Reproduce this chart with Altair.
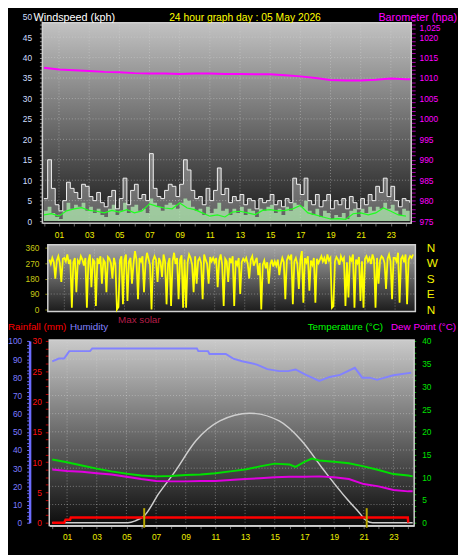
import altair as alt
import pandas as pd

# ---------------- data ----------------
WIND_HOURS = [i * 0.25 for i in range(98)]
GUST = [5.5, 15, 8, 4,
        2.5, 5, 9.5, 8,
        7, 5.5, 9, 8.5,
        6, 5, 7, 4.5,
        3.5, 6, 7.5, 3,
        5.5, 10.5, 4, 7.5,
        9, 5.5, 6.5, 5,
        16.5, 8, 6, 5.5,
        7.5, 9, 8.5, 6,
        9, 15, 12.5, 7.5,
        5.5, 6, 4, 8,
        5, 7.5, 13, 6.5,
        8, 4.5, 6, 5,
        6.5, 4, 5.5, 5,
        3, 5.5, 4.5, 5,
        6.5, 4, 5, 3.5,
        5.5, 4.5, 10.5, 9,
        6.5, 10.5, 5, 4,
        6.5, 3.5, 5, 6.5,
        3, 5, 4, 5.5,
        3, 6, 4.5, 3,
        5.5, 4, 6.5, 5,
        8.5, 7, 10.5, 6,
        8.5, 5, 3.5, 5.5,
        5, 4.5]
SPEED = [2.5, 3.5, 2, 1,
         0.5, 2.5, 4.5, 3,
         4, 3.5, 4.5, 2.5,
         3.5, 2, 3, 1.5,
         1, 3, 4, 1.5,
         2.5, 4.5, 2, 3.5,
         4, 2.5, 3, 2,
         5.5, 4.5, 3.5, 2.5,
         4, 4.5, 4, 3,
         4.5, 5.5, 5, 3.5,
         2.5, 3, 1.5, 3.5,
         2, 3, 4.5, 2.5,
         3, 1.5, 3, 2,
         3.5, 1.5, 3, 2.5,
         1, 3, 2.5, 3.5,
         4, 2, 3, 1.5,
         3.5, 2.5, 4.5, 4,
         3.5, 5, 2.5, 1.5,
         3, 1, 2.5, 2,
         0.5, 1.5, 1, 2,
         0.5, 2.5, 3, 1,
         3, 2, 3.5, 2.5,
         3.5, 3, 4.5, 3,
         4, 2.5, 1.5, 3,
         2.5, 2]
AVG_HOURS = [i * 0.5 for i in range(49)]
AVG = [1.5, 1.8, 1.2, 2.5, 3.0, 3.3, 2.6, 2.4, 2.0, 2.6,
       2.2, 2.8, 2.0, 2.5, 4.2, 3.6, 3.2, 3.0, 4.4, 3.2,
       2.8, 2.0, 1.2, 1.5, 1.0, 2.2, 2.4, 2.0, 1.6, 2.6,
       2.8, 2.5, 2.6, 3.0, 3.8, 2.0, 1.5, 1.0, 0.5, 0.6,
       0.4, 1.8, 2.0, 1.5, 2.0, 3.2, 2.4, 1.5, 1.2]
BARO_HOURS = list(range(25)) + [24.3]
BARO = [1012.5, 1012.1, 1011.9, 1011.7, 1011.5, 1011.4, 1011.2, 1011.1, 1011.1,
        1011.0, 1011.1, 1011.1, 1011.0, 1011.0, 1010.9, 1010.9, 1010.7, 1010.4,
        1010.0, 1009.5, 1009.4, 1009.4, 1009.6, 1009.9, 1009.7, 1009.7]

DIR_HOURS = [i / 10 for i in range(243)]
DIRECTION = [
    290, 265, 300, 275, 180, 285, 310, 270, 160, 295,
    300, 280, 320, 265, 290, 10, 275, 300, 100, 285,
    270, 310, 290, 255, 300, 10, 280, 320, 130, 290,
    280, 20, 300, 265, 310, 150, 290, 275, 100, 305,
    295, 270, 180, 300, 260, 0, 15, 285, 310, 30,
    290, 320, 50, 280, 300, 150, 265, 340, 290, 60,
    300, 280, 310, 100, 270, 330, 295, 260, 0, 285,
    310, 290, 160, 300, 275, 190, 320, 280, 30, 265,
    300, 20, 280, 330, 265, 300, 60, 290, 315, 10,
    290, 10, 275, 320, 300, 260, 100, 310, 150, 285,
    300, 270, 60, 320, 290, 265, 150, 305, 280, 300,
    275, 300, 130, 285, 320, 260, 20, 295, 280, 160,
    300, 270, 310, 20, 285, 260, 300, 90, 275, 295,
    280, 300, 265, 180, 290, 310, 255, 280, 300, 200,
    270, 0, 260, 285, 240, 275, 150, 260, 290, 250,
    280, 255, 290, 200, 265, 300, 275, 60, 285, 310,
    295, 320, 30, 280, 300, 265, 120, 290, 340, 40,
    300, 275, 310, 110, 285, 260, 300, 40, 295, 270,
    290, 310, 280, 300, 265, 320, 285, 300, 10, 20,
    280, 305, 290, 260, 310, 285, 300, 20, 275, 70,
    300, 285, 320, 10, 290, 270, 305, 50, 280, 10,
    295, 310, 280, 300, 265, 320, 290, 10, 300, 150,
    285, 310, 300, 270, 120, 295, 320, 280, 60, 300,
    300, 280, 330, 40, 295, 310, 275, 320, 30, 290,
    310, 300, 320]

HUM_HOURS = [0, 0.45, 0.8, 1.15, 2.55, 2.7, 9.75, 9.85, 10.5, 10.6, 11.7, 12.2, 12.8,
             13.8, 14.5, 15.3, 15.9, 16.4, 17.1, 18.0, 18.7, 19.4, 20.4, 20.9, 21.4,
             21.9, 23.0, 24.0, 24.2]
HUMIDITY = [88.8, 90.3, 90.3, 94.4, 94.4, 95.9, 95.9, 94.4, 94.4, 92.8, 92.8, 90.3, 88.8,
            87.0, 84.5, 83.4, 83.4, 84.3, 81.3, 78.0, 80.2, 81.3, 85.2, 79.8, 79.8,
            78.6, 81.1, 82.3, 82.5]
TEMP_HOURS = [0, 1, 2, 3, 4, 5, 6, 7, 8, 9, 10, 11, 12, 13, 14, 15, 16, 16.4, 17, 17.5,
              18, 19, 20, 21, 22, 23, 24, 24.3]
TEMP = [13.9, 13.3, 12.6, 11.9, 11.3, 10.8, 10.4, 10.2, 10.3, 10.5, 10.6, 10.9, 11.3,
        11.7, 12.4, 13.0, 12.8, 12.3, 13.4, 14.1, 13.7, 13.4, 13.1, 12.4, 11.6, 10.7,
        10.4, 10.2]
DEW_HOURS = list(range(25)) + [24.3]
DEW = [11.7, 11.4, 11.2, 10.9, 10.6, 10.1, 9.6, 9.2, 9.1, 9.1, 9.2, 9.2, 9.4, 9.6, 9.8,
       10.0, 10.1, 10.1, 10.2, 10.0, 9.6, 8.5, 8.0, 7.2, 6.9, 6.9]
SOLAR_HOURS = [0, 5.1, 5.6, 6.2, 7.2, 8.2, 9.7, 11.3, 13.3, 15.3, 16.8, 18.3, 19.9,
               20.6, 21.2, 21.6, 24.3]
SOLAR = [0, 0, 0.4, 1.5, 6.5, 10.9, 18.1, 22.4, 24.1, 22.4, 18.1, 11.6, 5.1, 2.6, 0.4,
         0, 0]
RAIN_HOURS = [0, 0.8, 0.9, 1.2, 1.25, 23.97, 24.0]
RAIN = [0, 0, 0.5, 0.5, 0.85, 0.85, 0]
SUN_HOURS = [6.2, 21.2]

GRID_HOURS = [1, 3, 5, 7, 9, 11, 13, 15, 17, 19, 21, 23]
HOUR_TICKS = list(range(25))
WIND_GRID = [5, 10, 15, 20, 25, 30, 35, 40, 45]
DIR_GRID = [90, 180, 270]
HUM_GRID = [10, 20, 30, 40, 50, 60, 70, 80, 90]

# ---------------- layout (pixels of the chart) ----------------
W, H = 458, 547
X_TOP = ([-0.1, 24.35], [35.0, 410.4])
Y_WIND = ([0, 50], [212, 4])
Y_BARO = ([975, 1025], [212, 4])
X_MID = ([-0.1, 24.35], [40.5, 414.6])
Y_DIR = ([0, 360], [302, 239])
X_BOT = ([-0.2, 24.4], [42.0, 413.4])
Y_HUM = ([0, 100], [519, 334])
Y_RAIN = ([0, 30], [519, 334])
Y_TEMP = ([0, 40], [519, 334])

FONT = "Liberation Sans"


def S(spec):
    return alt.Scale(domain=spec[0], range=spec[1], nice=False, zero=False)


def grad(top, bottom):
    return {"gradient": "linear", "x1": 0, "x2": 0, "y1": 0, "y2": 1,
            "stops": [{"offset": 0, "color": top}, {"offset": 1, "color": bottom}]}


one = pd.DataFrame({"k": [0]})


def panel(xs, ys, x0, x1, y0, y1, top, bottom):
    return alt.Chart(one).mark_rect(fill=grad(top, bottom), stroke="#d0d0d0", strokeWidth=1.5).encode(
        x=alt.X(datum=x0, scale=S(xs), axis=None), x2=alt.X2(datum=x1),
        y=alt.Y(datum=y0, scale=S(ys), axis=None), y2=alt.Y2(datum=y1))


def vgrid(xs, ys, y0, y1):
    return alt.Chart(pd.DataFrame({"h": GRID_HOURS})).mark_rule(
        color="#d8d8d8", strokeDash=[1, 2], opacity=0.45).encode(
        x=alt.X("h:Q", scale=S(xs), axis=None),
        y=alt.Y(datum=y0, scale=S(ys), axis=None), y2=alt.Y2(datum=y1))


def hgrid(vals, xs, ys, x0, x1):
    return alt.Chart(pd.DataFrame({"v": vals})).mark_rule(
        color="#d8d8d8", strokeDash=[1, 2], opacity=0.45).encode(
        y=alt.Y("v:Q", scale=S(ys), axis=None),
        x=alt.X(datum=x0, scale=S(xs), axis=None), x2=alt.X2(datum=x1))


def ax(orient, offset, values, color, tick_color, pad, size=8.5, expr=None, tick=3, **kw):
    args = dict(orient=orient, offset=offset, values=values, labelColor=color, tickColor=tick_color,
                tickSize=tick, labelPadding=pad, labelFontSize=size, labelFont=FONT, grid=False,
                title=None, labelFlush=False, labelOverlap=False, labelBound=False)
    if expr:
        args["labelExpr"] = expr
    if "domain" not in kw:
        args["domain"] = False
    args.update(kw)
    return alt.Axis(**args)


HOUR_EXPR = "datum.value % 2 == 1 ? format(datum.value, '02d') : ''"
FIVE_EXPR = "datum.value % 5 == 0 ? format(datum.value, 'd') : ''"
BARO_EXPR = "datum.value % 5 == 0 && datum.value < 1025 ? format(datum.value, 'd') : ''"
TEN_EXPR = "datum.value % 10 == 0 ? format(datum.value, 'd') : ''"

layers = []

# ---- top panel: wind speed & barometer ----
layers.append(panel(X_TOP, Y_WIND, -0.1, 24.35, -0.5, 48.5, "#c2c2c2", "#1a1a1a"))
layers.append(vgrid(X_TOP, Y_WIND, 0, 48.5))
layers.append(hgrid(WIND_GRID, X_TOP, Y_WIND, -0.1, 24.35))

wind_df = pd.DataFrame({"h": WIND_HOURS, "gust": GUST, "speed": SPEED})
layers.append(alt.Chart(wind_df).mark_area(interpolate="step-after", color="#ffffff", opacity=0.3).encode(
    x=alt.X("h:Q", scale=S(X_TOP), axis=None), y=alt.Y("gust:Q", scale=S(Y_WIND), axis=None, stack=None)))
layers.append(alt.Chart(wind_df).mark_area(interpolate="step-after", color="#b6f4b6", opacity=0.7).encode(
    x=alt.X("h:Q", scale=S(X_TOP), axis=None), y=alt.Y("speed:Q", scale=S(Y_WIND), axis=None, stack=None)))
layers.append(alt.Chart(wind_df).mark_line(interpolate="step-after", color="#f2f2f2", strokeWidth=1).encode(
    x=alt.X("h:Q", scale=S(X_TOP),
            axis=ax("bottom", -333, HOUR_TICKS, "#f0f000", "#6a6a6a", 5, expr=HOUR_EXPR,
                    domain=True, domainColor="#8a8a8a")),
    y=alt.Y("gust:Q", scale=S(Y_WIND),
            axis=ax("left", -35, list(range(51)), "#cfdfff", "#8a8a8a", 8, expr=FIVE_EXPR))))
layers.append(alt.Chart(pd.DataFrame({"h": AVG_HOURS, "avg": AVG})).mark_line(color="#20ff20", strokeWidth=1.2).encode(
    x=alt.X("h:Q", scale=S(X_TOP), axis=None), y=alt.Y("avg:Q", scale=S(Y_WIND), axis=None)))
layers.append(alt.Chart(pd.DataFrame({"h": BARO_HOURS, "baro": BARO})).mark_line(color="#ff00ff", strokeWidth=2).encode(
    x=alt.X("h:Q", scale=S(X_TOP), axis=None),
    y=alt.Y("baro:Q", scale=S(Y_BARO),
            axis=ax("right", -47.6, list(range(975, 1026)), "#ff00ff", "#b000b0", 4, expr=BARO_EXPR, tick=4))))
# top barometer label, nudged below the header text
layers.append(alt.Chart(pd.DataFrame({"v": [1025]})).mark_point(opacity=0).encode(
    y=alt.Y("v:Q", scale=S(Y_BARO),
            axis=ax("right", -47.6, [1025], "#ff00ff", "#b000b0", 8, ticks=False, labelOffset=11)),
    x=alt.X(datum=24.35, scale=S(X_TOP), axis=None)))

# ---- middle panel: wind direction ----
layers.append(panel(X_MID, Y_DIR, -0.1, 24.35, -11.4, 377, "#a8a8a8", "#1c1c1c"))
layers.append(vgrid(X_MID, Y_DIR, 0, 360))
layers.append(hgrid(DIR_GRID, X_MID, Y_DIR, -0.1, 24.35))
layers.append(alt.Chart(pd.DataFrame({"h": DIR_HOURS, "deg": DIRECTION})).mark_line(color="#ffff00", strokeWidth=1.8).encode(
    x=alt.X("h:Q", scale=S(X_MID), axis=None),
    y=alt.Y("deg:Q", scale=S(Y_DIR),
            axis=ax("left", -40.5, [0, 90, 180, 270, 360], "#c8c814", "#8a8a10", 6))))
compass = ("datum.value == 0 ? 'N' : datum.value == 90 ? 'E' : datum.value == 180 ? 'S' : "
           "datum.value == 270 ? 'W' : 'N'")
layers.append(alt.Chart(pd.DataFrame({"v": [0, 90, 180, 270, 360]})).mark_point(opacity=0).encode(
    y=alt.Y("v:Q", scale=S(Y_DIR),
            axis=ax("right", -43.4, [0, 90, 180, 270, 360], "#f4f400", "#000000", 11, size=12,
                    expr=compass, tick=0, ticks=False)),
    x=alt.X(datum=24.35, scale=S(X_MID), axis=None)))

# ---- bottom panel: rain, humidity, temperature, dew point, solar ----
layers.append(panel(X_BOT, Y_HUM, -0.2, 24.4, -1.6, 100.5, "#cacaca", "#0c0c0c"))
layers.append(vgrid(X_BOT, Y_HUM, 0, 100))
layers.append(hgrid(HUM_GRID, X_BOT, Y_HUM, -0.2, 24.4))
layers.append(alt.Chart(pd.DataFrame({"h": SOLAR_HOURS, "s": SOLAR})).mark_line(
    color="#cfcfcf", strokeWidth=1.5, interpolate="monotone").encode(
    x=alt.X("h:Q", scale=S(X_BOT), axis=None), y=alt.Y("s:Q", scale=S(Y_TEMP), axis=None)))
layers.append(alt.Chart(pd.DataFrame({"h": HUM_HOURS, "hum": HUMIDITY})).mark_line(color="#8282ff", strokeWidth=2).encode(
    x=alt.X("h:Q", scale=S(X_BOT),
            axis=ax("bottom", -25, HOUR_TICKS, "#f0f000", "#6a6a6a", 4.5, expr=HOUR_EXPR,
                    domain=True, domainColor="#c0c0c0", domainWidth=1.5)),
    y=alt.Y("hum:Q", scale=S(Y_HUM),
            axis=ax("left", -22, list(range(0, 101, 2)), "#7c7cff", "#6c6cff", 5, expr=TEN_EXPR,
                    domain=True, domainColor="#6c6cff", domainWidth=2.5))))
layers.append(alt.Chart(pd.DataFrame({"h": TEMP_HOURS, "t": TEMP})).mark_line(color="#00e000", strokeWidth=2).encode(
    x=alt.X("h:Q", scale=S(X_BOT), axis=None),
    y=alt.Y("t:Q", scale=S(Y_TEMP),
            axis=ax("right", -46, [i * 1.25 for i in range(33)], "#00e000", "#00b000", 6, expr=FIVE_EXPR))))
layers.append(alt.Chart(pd.DataFrame({"h": DEW_HOURS, "d": DEW})).mark_line(color="#e000e0", strokeWidth=2).encode(
    x=alt.X("h:Q", scale=S(X_BOT), axis=None), y=alt.Y("d:Q", scale=S(Y_TEMP), axis=None)))
layers.append(alt.Chart(pd.DataFrame({"h": RAIN_HOURS, "r": RAIN})).mark_line(color="#ff0000", strokeWidth=2.5).encode(
    x=alt.X("h:Q", scale=S(X_BOT), axis=None),
    y=alt.Y("r:Q", scale=S(Y_RAIN),
            axis=ax("left", -41, [i * 1.25 for i in range(25)], "#ff1010", "#c00000", 4, expr=FIVE_EXPR))))
layers.append(alt.Chart(pd.DataFrame({"h": SUN_HOURS})).mark_rule(color="#b8a800", strokeWidth=2).encode(
    x=alt.X("h:Q", scale=S(X_BOT), axis=None),
    y=alt.Y(datum=3.2, scale=S(Y_TEMP), axis=None), y2=alt.Y2(datum=-1.1)))


# ---- texts ----
def label(txt, x, y, color, size=11, align="left"):
    return alt.Chart(one).mark_text(font=FONT, fontSize=size, color=color, align=align,
                                    baseline="alphabetic").encode(
        x=alt.value(x), y=alt.value(y), text=alt.value(txt))


layers += [
    label("Windspeed (kph)", 26, 8, "#ffffff"),
    label("24 hour graph day : 05 May 2026", 164, 8, "#ffff00", size=10.5),
    label("Barometer (hpa)", 457, 8, "#ff00ff", align="right"),
    label("Max solar", 112, 316, "#b41e48", size=10),
    label("Rainfall (mm)", 0, 323, "#ff0000", size=10),
    label("Humidity", 63, 323, "#8282ff", size=10),
    label("Temperature (°C)", 305, 323, "#00ff00", size=10),
    label("Dew Point (°C)", 456, 323, "#ff00ff", size=10, align="right"),
]

chart = alt.layer(*layers).resolve_scale(x="independent", y="independent").resolve_axis(
    x="independent", y="independent").properties(
    width=W, height=H, padding=0, autosize=alt.AutoSizeParams(type="none"),
    background="#000000").configure_view(strokeWidth=0)

chart.save("out.html", embed_options={"renderer": "svg", "actions": False})
